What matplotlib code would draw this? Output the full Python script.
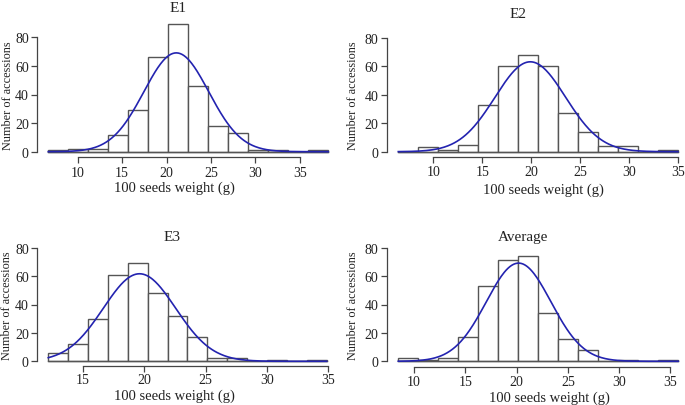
import numpy as np
import matplotlib
matplotlib.use("Agg")
import matplotlib.pyplot as plt

plt.rcParams['font.family'] = ['Liberation Serif', 'DejaVu Serif']

# bin edges and counts
e1_edges = [6.7, 8.95, 11.2, 13.45, 15.7, 17.95, 20.2, 22.45, 24.7, 26.95, 29.2, 31.45, 33.7, 35.95, 38.2]
e1_counts = [1, 2, 2, 12, 29, 66, 89, 46, 18, 13, 1, 1, 0, 1]
e1_fit = (21.1, 3.65)

e2_edges = [6.43, 8.47, 10.5, 12.55, 14.6, 16.63, 18.67, 20.7, 22.74, 24.78, 26.82, 28.85, 30.89, 32.93, 34.97]
e2_counts = [0, 3, 1, 5, 33, 60, 68, 60, 27, 14, 4, 4, 0, 1]
e2_fit = (19.9, 3.6)

e3_edges = [12.16, 13.78, 15.4, 17.03, 18.65, 20.27, 21.89, 23.51, 25.14, 26.76, 28.38, 30.0, 31.62, 33.24, 34.87]
e3_counts = [6, 12, 30, 61, 69, 48, 32, 17, 2, 2, 0, 1, 0, 1]
e3_fit = (19.6, 2.95)

avg_edges = [8.47, 10.42, 12.37, 14.32, 16.27, 18.22, 20.17, 22.12, 24.07, 26.02, 27.97, 29.92, 31.87, 33.82, 35.77]
avg_counts = [2, 1, 2, 17, 53, 71, 74, 34, 16, 8, 0, 1, 0, 1]
avg_fit = (20.2, 3.15)

titles = ["E1", "E2", "E3", "Average"]
xticks = [[10, 15, 20, 25, 30, 35], [10, 15, 20, 25, 30, 35],
          [15, 20, 25, 30, 35], [10, 15, 20, 25, 30, 35]]
yticks = [0, 20, 40, 60, 80]

W, H = 685, 406
fig = plt.figure(figsize=(W / 100, H / 100), dpi=100)

# pixel boxes: left, right, y of 0, y of 80 (from top)
boxes = [(48.3, 328.3, 152.7, 38.3), (398.3, 678.3, 152.7, 39.0),
         (48.3, 328.3, 362.3, 248.7), (398.3, 678.3, 362.3, 248.7)]
title_pos = [(178, 8), (518, 15), (172, 238), (523, 238)]
ylab_x = [8, 353, 7, 353]
xlab_x = [174, 543, 174, 549]
xlab_y = [188, 190, 396, 398]
outward_left = [8.0, 8.4, 8.0, 8.4]
outward_bottom = [4.0, 3.6, 3.6, 3.9]
xpad = [2, 2, 1, 2]

data = [(e1_edges, e1_counts, e1_fit), (e2_edges, e2_counts, e2_fit),
        (e3_edges, e3_counts, e3_fit), (avg_edges, avg_counts, avg_fit)]

edge_col = '#555555'
axis_col = '#444444'

for i, (edges, counts, fit) in enumerate(data):
    l, r, y0, y80 = boxes[i]
    ax = fig.add_axes([l / W, 1 - y0 / H, (r - l) / W, (y0 - y80) / H])
    edges = np.array(edges)
    counts = np.array(counts)
    widths = np.diff(edges)
    ax.bar(edges[:-1], counts, width=widths, align='edge', color='white',
           edgecolor=edge_col, linewidth=1.0, clip_on=False)
    ax.plot([edges[0], edges[-1]], [0, 0], color=edge_col, lw=1.0, clip_on=False)
    # fitted normal curve scaled to counts
    mu, sd = fit
    n = counts.sum()
    xs = np.linspace(edges[0], edges[-1], 300)
    ys = n * widths.mean() * np.exp(-0.5 * ((xs - mu) / sd) ** 2) / (sd * np.sqrt(2 * np.pi))
    ax.plot(xs, ys, color='#2323b0', lw=1.2, clip_on=False)
    ax.set_xlim(edges[0], edges[-1])
    ax.set_ylim(0, 80)
    for s in ['top', 'right']:
        ax.spines[s].set_visible(False)
    ax.spines['left'].set_position(('outward', outward_left[i]))
    ax.spines['bottom'].set_position(('outward', outward_bottom[i]))
    ax.spines['left'].set_bounds(0, 80)
    ax.spines['bottom'].set_bounds(xticks[i][0], xticks[i][-1])
    for s in ['left', 'bottom']:
        ax.spines[s].set_color(axis_col)
        ax.spines[s].set_linewidth(0.9)
    ax.set_xticks(xticks[i])
    ax.set_yticks(yticks)
    ax.tick_params(axis='both', colors=axis_col, labelcolor='#222222', labelsize=10,
                   length=4, width=0.9, pad=2)
    ax.tick_params(axis='x', pad=xpad[i])
    ax.patch.set_visible(False)
    fig.text(title_pos[i][0] / W, 1 - title_pos[i][1] / H, titles[i], ha='center',
             va='center', fontsize=11, color='#222222')
    fig.text(ylab_x[i] / W, 1 - ((y0 + y80) / 2) / H, 'Number of accessions',
             rotation=90, ha='center', va='center', fontsize=8.8, color='#222222')
    fig.text(xlab_x[i] / W, 1 - xlab_y[i] / H, '100 seeds weight (g)', ha='center',
             va='center', fontsize=10.5, color='#222222')

fig.savefig('out.png', dpi=100)
